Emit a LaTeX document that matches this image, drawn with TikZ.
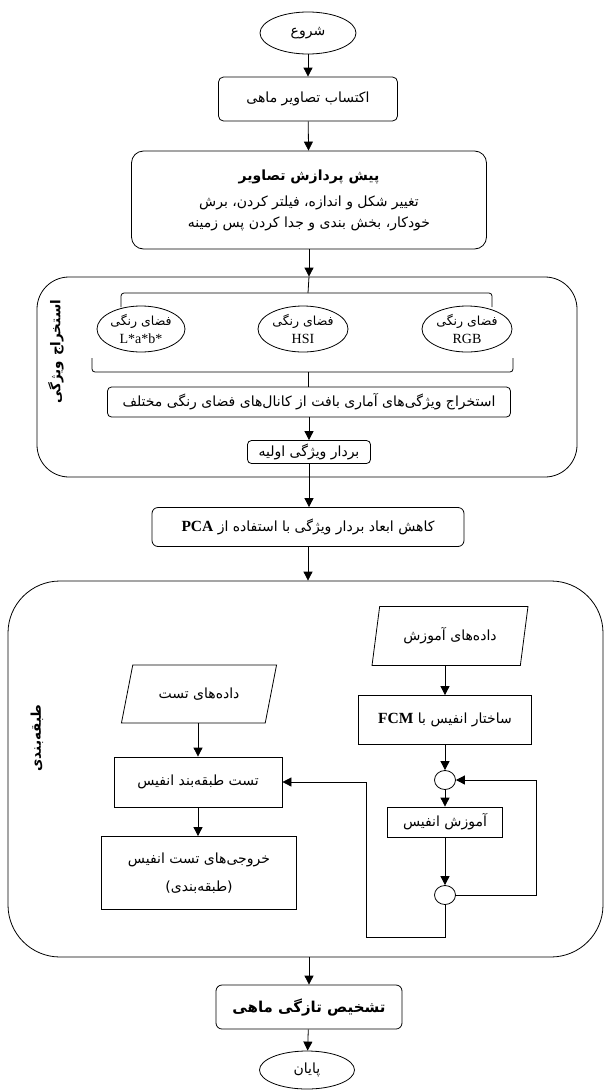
\documentclass[tikz,border=0pt]{standalone}
\usepackage{fontspec}
\setmainfont{Liberation Serif}
\newfontfamily\arabicfont[Script=Arabic]{DejaVu Sans}
\TeXXeTstate=1
\usetikzlibrary{arrows.meta,shapes.geometric,calc}
\newcommand\fa[1]{{\arabicfont\beginR #1\endR}}
\newcommand\lat[1]{{\rmfamily\bfseries\fontsize{15.5}{18}\selectfont #1}}
\newcommand\latr[1]{{\rmfamily\fontsize{14}{18}\selectfont #1}}
\begin{document}
\begin{tikzpicture}[x=1pt,y=-1pt,line width=0.8pt,
  every node/.style={font=\fontsize{14}{20.5}\selectfont},
  arr/.style={-{Triangle[length=9pt,width=9pt]}},
  rbox/.style={draw,rounded corners=5pt,inner sep=0pt,align=center},
  sbox/.style={draw,inner sep=0pt,align=center},
  oval/.style={draw,ellipse,inner sep=0pt,align=center},
  coloval/.style={oval,font=\fontsize{12.5}{18}\selectfont},
  para/.style={draw,trapezium,trapezium stretches=true,inner sep=0pt},
  dot/.style={draw,ellipse,inner sep=0pt,minimum width=21pt,minimum height=19pt},
  lbl/.style={rotate=90,font=\fontsize{13.5}{18}\selectfont\bfseries}]
\useasboundingbox (0,0) rectangle (607,1092);
% main column
\node[oval,minimum width=96pt,minimum height=42pt] (start) at (308,33) {\fa{شروع}};
\node[rbox,minimum width=179pt,minimum height=44pt] (acq) at (308,99) {\fa{اکتساب تصاویر ماهی}};
\node[rbox,rounded corners=12pt,minimum width=355pt,minimum height=98pt] (pre) at (309,200)
  {{\bfseries\fa{پیش پردازش تصاویر}}\\[6pt]
   \fa{تغییر شکل و اندازه، فیلتر کردن، برش}\\
   \fa{خودکار، بخش بندی و جدا کردن پس زمینه}};
% feature extraction group
\node[draw,rounded corners=32pt,minimum width=540pt,minimum height=200pt] (feat) at (307,377) {};
\node[lbl] (featlbl) at (56,352) {\fa{استخراج ویژگی}};
\coordinate (tb) at (308,293);
\draw[rounded corners=3pt] (121,307) -- (121,293) -- (492,293) -- (492,307);
\node[coloval,minimum width=88pt,minimum height=46pt] (lab) at (141,329) {\fa{فضای رنگی}\\ \latr{L*a*b*}};
\node[coloval,minimum width=90pt,minimum height=46pt] (hsi) at (303,329) {\fa{فضای رنگی}\\ \latr{HSI}};
\node[coloval,minimum width=90pt,minimum height=46pt] (rgb) at (467,329) {\fa{فضای رنگی}\\ \latr{RGB}};
\coordinate (bb) at (308,372);
\draw[rounded corners=3pt] (92,358) -- (92,372) -- (513,372) -- (513,358);
\node[rbox,rounded corners=4pt,minimum width=403pt,minimum height=30pt] (stat) at (309,402)
  {\fa{استخراج ویژگی^^^^200cهای آماری بافت از کانال^^^^200cهای فضای رنگی مختلف}};
\node[rbox,rounded corners=4pt,minimum width=123pt,minimum height=23pt] (vec) at (309,452)
  {\fa{بردار ویژگی اولیه}};
\node[rbox,rounded corners=6pt,minimum width=312pt,minimum height=39pt] (pca) at (308,527)
  {\fa{کاهش ابعاد بردار ویژگی با استفاده از \lat{PCA}}};
% classification group
\node[draw,rounded corners=52pt,minimum width=595pt,minimum height=376pt] (cls) at (305.5,769) {};
\node[lbl] (clslbl) at (37,738) {\fa{طبقه^^^^200cبندی}};
\node[para,trapezium left angle=73,trapezium right angle=107,minimum width=156pt,minimum height=59pt] (train) at (450,636)
  {\fa{داده^^^^200cهای آموزش}};
\node[sbox,minimum width=173pt,minimum height=49pt] (fcm) at (445,720)
  {\fa{ساختار انفیس با \lat{FCM}}};
\node[dot] (c1) at (445,780) {};
\node[sbox,minimum width=115pt,minimum height=30pt] (learn) at (445,822) {\fa{آموزش انفیس}};
\node[dot] (c2) at (445,895) {};
\coordinate (loopr1) at (536,895);
\coordinate (loopr2) at (536,780);
\coordinate (loopb1) at (445,937);
\coordinate (loopb2) at (366,937);
\coordinate (loopb3) at (366,782);
\node[para,trapezium left angle=61,trapezium right angle=119,minimum width=156pt,minimum height=58pt] (testd) at (199,694)
  {\fa{داده^^^^200cهای تست}};
\node[sbox,minimum width=168pt,minimum height=50pt] (test) at (198,782) {\fa{تست طبقه^^^^200cبند انفیس}};
\node[sbox,minimum width=195pt,minimum height=73pt] (out) at (199,873)
  {\fa{خروجی^^^^200cهای تست انفیس}\\[8pt] \fa{(طبقه^^^^200cبندی)}};
% end
\node[rbox,rounded corners=6pt,minimum width=186pt,minimum height=44pt,font=\fontsize{15}{18}\selectfont\bfseries] (fin) at (309,1007)
  {\fa{تشخیص تازگی ماهی}};
\node[oval,minimum width=95pt,minimum height=38pt] (stop) at (307,1070) {\fa{پایان}};
% connectors
\draw[arr] (start) -- (acq);
\draw[arr] (acq) -- (pre);
\draw[arr] (pre.south) -- (pre.south |- feat.north);
\draw (pre.south |- feat.north) -- (tb);
\draw (bb) -- (stat.north -| bb);
\draw[arr] (stat) -- (vec);
\draw[arr] (vec.south) -- (pca.north -| vec.south);
\draw[arr] (pca.south) -- (pca.south |- cls.north);
\draw[arr] (train.south -| fcm.north) -- (fcm.north);
\draw[arr] (fcm) -- (c1);
\draw[arr] (c1) -- (learn);
\draw[arr] (learn) -- (c2);
\draw[arr] (c2.east) -- (loopr1) -- (loopr2) -- (c1.east);
\draw[arr] (c2.south) -- (loopb1) -- (loopb2) -- (loopb3) -- (test.east);
\draw[arr] (testd.south -| test.north) -- (test.north);
\draw[arr] (test.south) -- (out.north -| test.south);
\draw[arr] (cls.south -| fin.north) -- (fin.north);
\draw[arr] (fin) -- (stop);
\end{tikzpicture}
\end{document}
